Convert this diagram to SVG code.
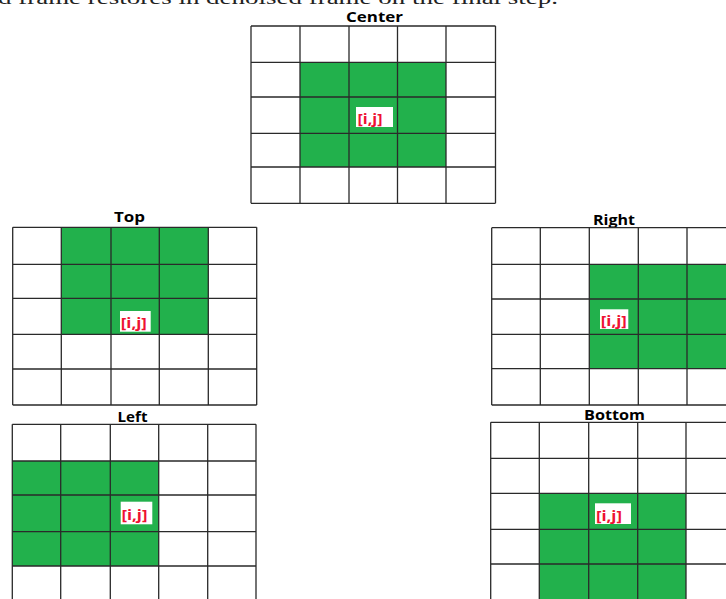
<svg xmlns="http://www.w3.org/2000/svg" width="726" height="599" viewBox="0 0 726 599">
<style>
.bg{fill:#ffffff}
.green{fill:#22b14c}
.grid{fill:none;stroke:#2a2a2a;stroke-width:1.3}
.title{font-family:"Open Sans","Liberation Sans",sans-serif;font-weight:bold;font-size:14.5px;fill:#000}
.lblbox{fill:#ffffff}
.lbl{font-family:"Open Sans","Liberation Sans",sans-serif;font-weight:bold;font-size:15px;fill:#ee1133}
.cap{font-family:"Liberation Serif",serif;font-size:19px;fill:#222}
</style>
<rect class="bg" x="0" y="0" width="726" height="599"/>
<text class="cap" x="-2" y="4" textLength="560" lengthAdjust="spacingAndGlyphs">d frame restores in denoised frame on the final step.</text>

<g id="center">
<text class="title" x="346" y="21.5" textLength="57" lengthAdjust="spacingAndGlyphs">Center</text>
<rect class="green" x="300" y="62.3" width="146" height="104.7"/>
<path class="grid" d="M251 26V203.3M300 26V203.3M349 26V203.3M397.5 26V203.3M446 26V203.3M495.5 26V203.3M251 26H495.5M251 62.3H495.5M251 97H495.5M251 133.3H495.5M251 167H495.5M251 203.3H495.5"/>
<rect class="lblbox" x="356" y="107" width="37" height="20"/>
<text class="lbl" x="357.5" y="124" textLength="25" lengthAdjust="spacingAndGlyphs">[i,j]</text>
</g>

<g id="top">
<text class="title" x="114" y="222" textLength="31" lengthAdjust="spacingAndGlyphs">Top</text>
<rect class="green" x="61.3" y="227.3" width="147" height="107"/>
<path class="grid" d="M12.7 227.3V405M61.3 227.3V405M111 227.3V405M159.3 227.3V405M208.3 227.3V405M256.7 227.3V405M12.7 227.3H256.7M12.7 264.3H256.7M12.7 298.3H256.7M12.7 334.3H256.7M12.7 369H256.7M12.7 405H256.7"/>
<rect class="lblbox" x="120" y="311" width="30.7" height="20.7"/>
<text class="lbl" x="120.8" y="328" textLength="26" lengthAdjust="spacingAndGlyphs">[i,j]</text>
</g>

<g id="right">
<text class="title" x="593" y="224.5" textLength="42" lengthAdjust="spacingAndGlyphs">Right</text>
<rect class="green" x="589.3" y="264.3" width="146.7" height="104.4"/>
<path class="grid" d="M491.7 227.7V405M540.3 227.7V405M589.3 227.7V405M638.3 227.7V405M687 227.7V405M736 227.7V405M491.7 227.7H736M491.7 264.3H736M491.7 299H736M491.7 334.3H736M491.7 368.7H736M491.7 405H736"/>
<rect class="lblbox" x="600" y="309.3" width="28.3" height="19.7"/>
<text class="lbl" x="600.8" y="326" textLength="26" lengthAdjust="spacingAndGlyphs">[i,j]</text>
</g>

<g id="left">
<text class="title" x="117.5" y="422" textLength="30" lengthAdjust="spacingAndGlyphs">Left</text>
<rect class="green" x="12.3" y="461" width="146.4" height="105"/>
<path class="grid" d="M12.3 424.3V601.5M60.7 424.3V601.5M110.3 424.3V601.5M158.7 424.3V601.5M207.7 424.3V601.5M256 424.3V601.5M12.3 424.3H256M12.3 461H256M12.3 495H256M12.3 531.7H256M12.3 566H256"/>
<rect class="lblbox" x="120.7" y="501.7" width="31.6" height="22.6"/>
<text class="lbl" x="121.5" y="519.5" textLength="26" lengthAdjust="spacingAndGlyphs">[i,j]</text>
</g>

<g id="bottom">
<text class="title" x="584" y="420" textLength="61" lengthAdjust="spacingAndGlyphs">Bottom</text>
<rect class="green" x="539.3" y="493.3" width="146.7" height="106.7"/>
<path class="grid" d="M490.7 422.3V600M539.3 422.3V600M588.7 422.3V600M637.7 422.3V600M686 422.3V600M735 422.3V600M490.7 422.3H735M490.7 458.3H735M490.7 493.3H735M490.7 529.3H735M490.7 564H735"/>
<rect class="lblbox" x="595" y="503.3" width="36" height="20.7"/>
<text class="lbl" x="596" y="520.5" textLength="26" lengthAdjust="spacingAndGlyphs">[i,j]</text>
</g>

<g id="connectors"/>
</svg>
